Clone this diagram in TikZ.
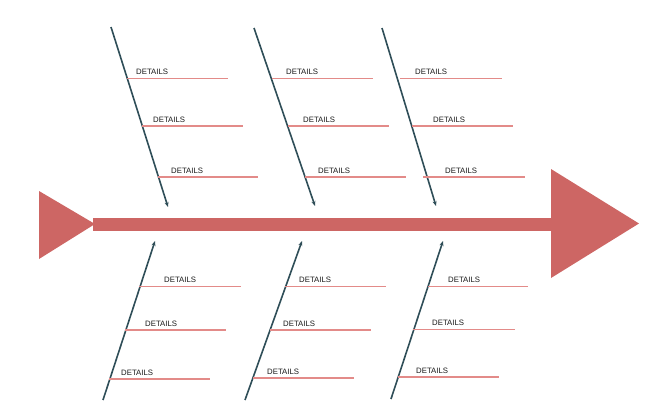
\documentclass[tikz,border=0pt]{standalone}
\usepackage{fontspec}
\setmainfont{Liberation Sans}
\usetikzlibrary{arrows.meta}
\definecolor{fishred}{HTML}{CD6664}
\definecolor{bonecol}{HTML}{2F4E58}
\definecolor{detline}{HTML}{E38B89}
\tikzset{
  fish/.style={fill=fishred,draw=none},
  bone/.style={draw=bonecol,line width=1.6pt,-{Stealth[length=5pt,width=4pt]}},
  detail/.style={draw=detline,line width=1.4pt},
  dtext/.style={anchor=base west,inner sep=0pt,font=\fontsize{7.8}{9}\selectfont,text=black!90}
}
\newcommand{\detailrow}[5]{%
  \coordinate (#1s) at (#2,#4);
  \coordinate (#1e) at (#3,#4);
  \draw[detail] (#1s) -- (#1e);
  \node[dtext] (#1t) at (#5,#4-3.6) {DETAILS};
}
\begin{document}
\begin{tikzpicture}[x=1pt,y=-1pt]
\useasboundingbox (0,0) rectangle (659,410);
% fish body
\fill[fish] (39,191) -- (95,224) -- (39,259) -- cycle;
\fill[fish] (93,218.3) rectangle (552,230.5);
\fill[fish] (551,169) -- (639,223.5) -- (551,278) -- cycle;
% upper bones
\coordinate (u1a) at (111,27);  \coordinate (u1b) at (168,207);
\coordinate (u2a) at (254,28);  \coordinate (u2b) at (315,206);
\coordinate (u3a) at (382,28);  \coordinate (u3b) at (436,206);
\draw[bone] (u1a) -- (u1b);
\draw[bone] (u2a) -- (u2b);
\draw[bone] (u3a) -- (u3b);
% lower bones
\coordinate (l1a) at (103,400); \coordinate (l1b) at (155,241);
\coordinate (l2a) at (245,400); \coordinate (l2b) at (302,241);
\coordinate (l3a) at (391,399); \coordinate (l3b) at (443,241);
\draw[bone] (l1a) -- (l1b);
\draw[bone] (l2a) -- (l2b);
\draw[bone] (l3a) -- (l3b);
% details upper
\detailrow{ua1}{127}{228}{78.5}{136}
\detailrow{ua2}{142}{243}{126}{153}
\detailrow{ua3}{158}{258}{177}{171}
\detailrow{ub1}{272}{373}{78.5}{286}
\detailrow{ub2}{288}{389}{126}{303}
\detailrow{ub3}{305}{406}{177}{318}
\detailrow{uc1}{400}{502}{78.5}{415}
\detailrow{uc2}{412}{513}{126}{433}
\detailrow{uc3}{423}{525}{177}{445}
% details lower
\detailrow{la1}{139}{241}{286.5}{164}
\detailrow{la2}{125}{226}{330}{145}
\detailrow{la3}{109}{210}{379}{121}
\detailrow{lb1}{285}{386}{286.5}{299}
\detailrow{lb2}{270}{371}{330}{283}
\detailrow{lb3}{253}{354}{378}{267}
\detailrow{lc1}{428}{528}{286.5}{448}
\detailrow{lc2}{413}{515}{329.5}{432}
\detailrow{lc3}{398}{499}{377}{416}
\end{tikzpicture}
\end{document}
